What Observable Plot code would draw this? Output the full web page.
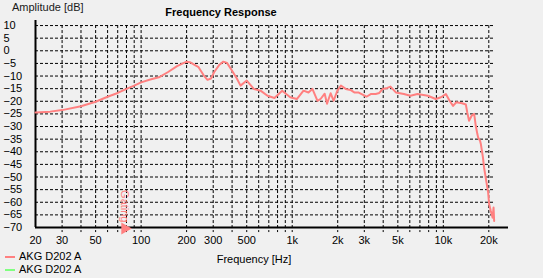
<!DOCTYPE html>
<html>
<head>
<meta charset="utf-8">
<script src="https://cdn.jsdelivr.net/npm/d3@7"></script>
<script src="https://cdn.jsdelivr.net/npm/@observablehq/plot@0.6"></script>
<style>
  html, body { margin: 0; padding: 0; background: #f0f0f0; }
  #wrap { position: relative; width: 543px; height: 278px; font-family: "Liberation Sans", Arial, sans-serif; font-size: 11px; color: #000; }
  .lbl { position: absolute; white-space: nowrap; line-height: 13px; }
  .sw { position: absolute; height: 2px; width: 10px; }
</style>
</head>
<body>
<div id="wrap">
  <div id="chart"></div>
  <div class="lbl" style="left:0;width:442px;text-align:center;top:6px;font-weight:bold;">Frequency Response</div>
  <div class="lbl" style="left:12px;top:1px;color:#1a1a1a;">Amplitude [dB]</div>
  <div class="lbl" style="left:0;width:508px;text-align:center;top:253px;">Frequency [Hz]</div>
  <div class="sw" style="left:5px;top:256px;background:#ff8080;"></div>
  <div class="lbl" style="left:19px;top:250px;">AKG D202 A</div>
  <div class="sw" style="left:5px;top:269px;background:#80ff80;"></div>
  <div class="lbl" style="left:19px;top:263px;">AKG D202 A</div>
</div>
<script>
// Frequency response samples (Hz, dB)
const freq = [
  20,25,30,40,50,60,70,80,90,100,
  115,131,150,173,200,210,240,260,275,290,
  304,330,350,370,400,430,455,500,557,617,
  686,763,858,970,1073,1188,1281,1360,1470,1545,
  1640,1700,1795,1880,1990,2100,2260,2430,2575,2735,
  3100,3330,3570,3770,3970,4260,4470,4850,5480,6060,
  6740,7900,8900,9650,10400,11000,11600,12200,13300,14100,
  14400,14800,15400,16000,16400,16800,17000,17500,17700,18300,
  18600,19100,19800,20100,20600,21200,21500,21700
];
const amp = [
  -24.4,-24.1,-23.5,-22.0,-20.2,-18.2,-16.7,-15.1,-13.8,-12.5,
  -11.4,-10.5,-8.5,-6.1,-4.3,-4.5,-6.5,-9.8,-11.5,-11.0,
  -8.5,-5.5,-4.3,-4.8,-7.9,-11.0,-13.8,-11.8,-15.1,-15.8,
  -17.8,-18.7,-15.8,-18.4,-19.1,-15.8,-16.5,-15.1,-19.8,-19.0,
  -17.0,-21.0,-16.8,-19.8,-15.8,-13.8,-15.1,-15.5,-16.5,-16.5,
  -18.2,-17.1,-17.1,-16.7,-15.1,-14.7,-14.2,-16.5,-17.1,-17.8,
  -17.1,-17.8,-19.1,-18.4,-17.1,-19.8,-21.8,-20.4,-20.8,-21.3,
  -24.4,-27.7,-25.7,-25.0,-29.7,-33.0,-34.3,-35.6,-36.8,-42.3,
  -46.2,-50.4,-56.2,-60.8,-63.4,-66.1,-62.1,-67.4
];
const gridFreqs = [30,40,50,60,70,80,90,100,200,300,400,500,600,700,800,900,
  1000,2000,3000,4000,5000,6000,7000,8000,9000,10000,20000];
const gridDb = [-65,-60,-55,-50,-45,-40,-35,-30,-25,-20,-15,-10,-5,0,5,10];
const yTicks = [10,5,0,-5,-10,-15,-20,-25,-30,-35,-40,-45,-50,-55,-60,-65,-70];
const xTicks = [20,30,50,100,200,300,500,1000,2000,3000,5000,10000,20000];
const xTickLabels = ["20","30","50","100","200","300","500","1k","2k","3k","5k","10k","20k"];
const gating = [78];
const gatingLabel = "Gating";
const xDomain = [20, 27000];
const yDomain = [-70, 12];

const data = freq.map((f, i) => ({f, a: amp[i]}));
const lastF = freq[freq.length - 1];
const pink = "#ff8080";

const chart = Plot.plot({
  width: 543,
  height: 278,
  marginLeft: 35,
  marginRight: 35,
  marginTop: 20,
  marginBottom: 51,
  style: {background: "transparent", fontFamily: "'Liberation Sans', Arial, sans-serif", fontSize: "11px", color: "#000"},
  x: {type: "log", domain: xDomain, axis: null},
  y: {domain: yDomain},
  marks: [
    Plot.ruleY(gridDb, {y: d => d, x1: xDomain[0], x2: lastF, stroke: "#000", strokeWidth: 1, strokeDasharray: "3,2"}),
    Plot.ruleX(gridFreqs, {x: d => d, y1: 10, y2: -72, stroke: "#000", strokeWidth: 1, strokeDasharray: "3,2"}),
    Plot.ruleX([xDomain[0]], {y1: yDomain[0], y2: yDomain[1], stroke: "#000", strokeWidth: 2}),
    Plot.ruleY([yDomain[0]], {x1: xDomain[0], x2: xDomain[1], stroke: "#000", strokeWidth: 2}),
    Plot.axisY({ticks: yTicks, tickSize: 0, tickPadding: 0, textAnchor: "start", dx: -32, label: null, fill: "#000"}),
    Plot.text(xTicks, {x: d => d, y: yDomain[0], text: (d, i) => xTickLabels[i], dy: 13, fill: "#000", fontSize: 11}),
    Plot.line(data, {x: "f", y: "a", stroke: pink, strokeWidth: 2}),
    Plot.text(gating, {x: d => d, y: yDomain[0], text: () => gatingLabel, rotate: 90, textAnchor: "end", dy: -5, fill: pink, fontSize: 11}),
    Plot.dot(gating, {x: d => d, y: yDomain[0], symbol: "triangle", rotate: 90, r: 4.5, fill: pink, stroke: "none", dy: 1})
  ]
});
document.getElementById("chart").appendChild(chart);
</script>
</body>
</html>
